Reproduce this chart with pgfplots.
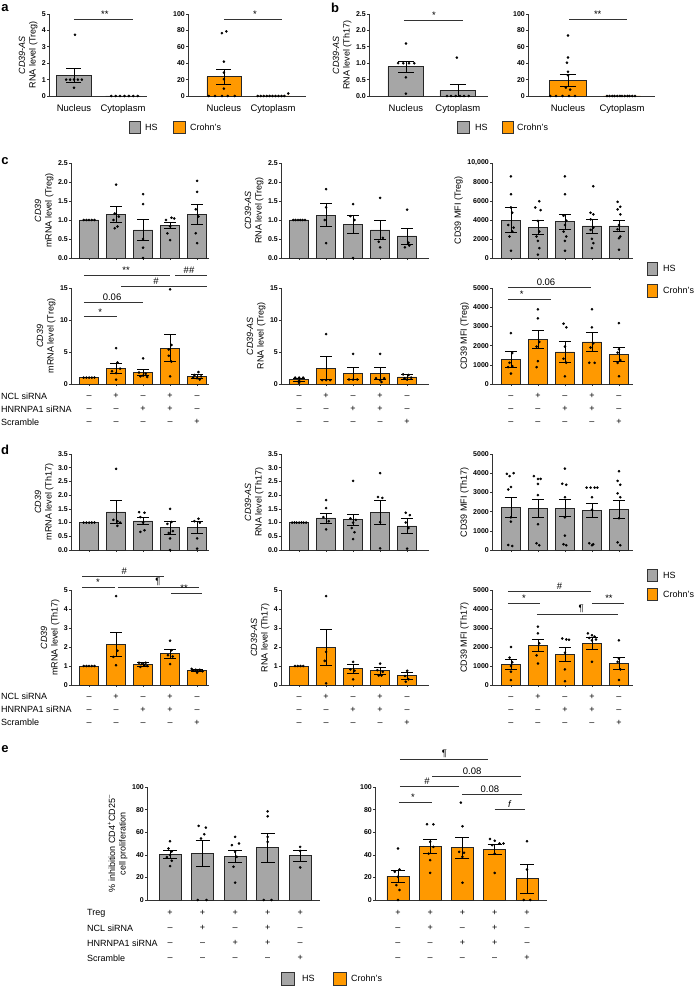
\documentclass[border=0pt]{standalone}
\usepackage{pgfplots}
\pgfplotsset{compat=1.18}
\usepackage{fontspec}
\setmainfont{Liberation Sans}
\definecolor{hsgray}{RGB}{166,166,166}
\definecolor{cdorange}{RGB}{255,153,0}

\newcommand{\mn}{–}
\newcommand{\pl}{+}
\newcommand{\three}[3]{\strut#1\\\strut#2\\\strut#3}
\newcommand{\four}[4]{\strut#1\\\strut#2\\\strut#3\\\strut#4}

\tikzset{
  sigline/.style={line width=0.7pt, black!80},
  siglab/.style={anchor=south, inner sep=1.5pt, font=\fontsize{9.5}{10}\selectfont},
  legbox/.style={draw=black!80, line width=0.8pt},
}
\newcommand{\sig}[5]{%
  \draw[sigline] (axis cs:#1,#3) -- (axis cs:#2,#3);
  \node[siglab] at (axis cs:#4,#3) {#5};}

\pgfplotsset{
  base/.style={
    scale only axis, clip=false, anchor=south west,
    axis lines=left, axis line style={-, line width=0.7pt, black!80},
    tick style={line width=0.6pt, black!80}, major tick length=2pt, tick align=outside,
    ymin=0, scaled y ticks=false,
    /pgf/number format/assume math mode=true,
    /pgf/number format/1000 sep={},
    yticklabel style={font=\fontsize{7}{7}\selectfont\bfseries, inner sep=1pt},
    ylabel style={font=\fontsize{9}{10.5}\selectfont, align=center},
  },
  onedec/.style={yticklabel style={/pgf/number format/fixed, /pgf/number format/fixed zerofill, /pgf/number format/precision=1}},
  ab/.style={base, height=82pt, xtick={0,1}, xticklabels={Nucleus,Cytoplasm}, xtick style={draw=none},
    xticklabel style={font=\fontsize{9.5}{10}\selectfont, inner sep=0pt, anchor=north, yshift=-6pt},
    ylabel style={font=\fontsize{9}{10.5}\selectfont}},
  toprow/.style={base, xtick={1,...,5}, xticklabels={}},
  rowsc/.style={base, xtick={1,...,5},
    xticklabels={\three\mn\mn\mn,\three\pl\mn\mn,\three\mn\pl\mn,\three\pl\pl\mn,\three\mn\mn\pl},
    xticklabel style={font=\fontsize{9}{13}\selectfont, align=center, inner sep=0pt, anchor=north, yshift=-3.5pt}},
  rowse/.style={base, xtick={1,...,5}, xtick style={draw=none},
    xticklabels={\four\pl\mn\mn\mn,\four\pl\pl\mn\mn,\four\pl\mn\pl\mn,\four\pl\pl\pl\mn,\four\pl\mn\mn\pl},
    xticklabel style={font=\fontsize{9}{15}\selectfont, align=center, inner sep=0pt, anchor=north, yshift=-3pt}},
  hsb/.style={ybar, bar width=#1, fill=hsgray, draw=black!85, line width=0.7pt, forget plot},
  cdb/.style={ybar, bar width=#1, fill=cdorange, draw=black!85, line width=0.7pt, forget plot},
  dots/.style={only marks, mark=*, mark size=1.1pt, black, forget plot},
  errb/.style={draw=none, mark=none, forget plot,
    error bars/.cd, y dir=both, y explicit,
    error bar style={draw=black, line width=0.7pt},
    error mark options={draw=black, line width=0.7pt, mark size=#1, rotate=90}},
}

\begin{document}
\begin{tikzpicture}
\useasboundingbox (0,0) rectangle (696pt,-987pt);

% ---------------- panel a ----------------
\begin{axis}[ab, at={(49pt,-96pt)}, width=98pt, xmin=-0.51, xmax=1.49, ymax=5, ytick={0,1,...,5},
  ylabel={\textit{CD39-AS}\\RNA level (Treg)}]
\addplot[hsb=0.71] coordinates {(0,1.27) (1,0)};
\addplot[dots] coordinates {(0.02,3.73) (-0.16,1.0) (-0.08,1.0) (0,1.0) (0.08,1.0) (0.16,1.0) (0,0.5)
  (0.76,0) (0.85,0) (0.94,0) (1.03,0) (1.12,0) (1.21,0) (1.30,0)};
\addplot[errb=7.5pt] coordinates {(0,1.27) +- (0,0.43)};
\sig{0}{1.2}{4.7}{0.63}{**}
\end{axis}

\begin{axis}[ab, at={(188pt,-96pt)}, width=118pt, xmin=-0.73, xmax=1.67, ymax=100, ytick={0,20,...,100}]
\addplot[cdb=0.69] coordinates {(0,23.4) (1,0)};
\addplot[dots] coordinates {(-0.04,76.6) (0.05,78.7) (0,42) (0,28.5) (0,20.5) (0,9)
  (-0.31,0) (-0.18,0) (-0.04,0) (0.08,0) (0.22,0)
  (0.69,0) (0.75,0) (0.81,0) (0.87,0) (0.93,0) (0.99,0) (1.05,0) (1.11,0) (1.17,0) (1.23,0) (1.31,3)};
\addplot[errb=7.5pt] coordinates {(0,23.4) +- (0,9.4)};
\sig{0}{1.18}{94}{0.63}{*}
\end{axis}

% ---------------- panel b ----------------
\begin{axis}[ab, at={(369pt,-96pt)}, width=119pt, xmin=-0.71, xmax=1.58, ymax=2.5, ytick={0,0.5,...,2.5}, onedec,
  ylabel={\textit{CD39-AS}\\RNA level (Th17)}]
\addplot[hsb=0.69] coordinates {(0,0.89) (1,0.17)};
\addplot[dots] coordinates {(0,1.6) (-0.15,1.0) (-0.05,1.0) (0.06,1.0) (0.16,1.0) (0,0.57) (0,0.07)
  (0.98,1.17) (0.79,0) (0.87,0) (0.96,0) (1.04,0) (1.12,0) (1.21,0)};
\addplot[errb=8pt] coordinates {(0,0.89) +- (0,0.18) (1,0.17) +- (0,0.17)};
\sig{-0.04}{1.1}{2.32}{0.54}{*}
\end{axis}

\begin{axis}[ab, at={(528pt,-96pt)}, width=127pt, xmin=-0.74, xmax=1.61, ymax=100, ytick={0,20,...,100}]
\addplot[cdb=0.69] coordinates {(0,19.3) (1,0)};
\addplot[dots] coordinates {(0,73.8) (0,47) (-0.02,40.6) (0,29.5) (0,25.4) (-0.04,10.2) (0.04,7.8)
  (-0.33,0) (-0.22,0) (-0.1,0) (0.02,0) (0.13,0)
  (0.72,0) (0.77,0) (0.82,0) (0.86,0) (0.91,0) (0.96,0) (1.0,0) (1.05,0) (1.1,0) (1.14,0) (1.19,0) (1.24,0)};
\addplot[errb=8pt] coordinates {(0,19.3) +- (0,7.2)};
\sig{0.02}{1.09}{94}{0.55}{**}
\end{axis}

% ---------------- panel c, top ----------------
\begin{axis}[toprow, at={(71pt,-258pt)}, width=138pt, height=95pt, xmin=0.33, xmax=5.44, ymax=2.5,
  ytick={0,0.5,...,2.5}, onedec, ylabel={\textit{CD39}\\mRNA level (Treg)}]
\addplot[hsb=0.7] coordinates {(1,1.0) (2,1.15) (3,0.74) (4,0.85) (5,1.15)};
\addplot[dots] coordinates {(0.8,1) (0.9,1) (1,1) (1.1,1) (1.2,1)
  (2,1.93) (1.95,1.17) (2.1,1.09) (1.9,1.0) (2.05,0.83) (1.95,0.78)
  (3,1.68) (3,1.42) (3,0.5) (3,0.27) (3,0)
  (3.85,1.0) (4.05,1.06) (4.15,1.04) (4,0.83) (3.9,0.65) (4,0.47)
  (5,2.03) (5,1.74) (4.95,1.28) (5.05,1.09) (4.95,0.65) (5,0.39)};
\addplot[errb=6pt] coordinates {(2,1.15) +- (0,0.2) (3,0.74) +- (0,0.27) (4,0.85) +- (0,0.08) (5,1.15) +- (0,0.27)};
\end{axis}

\begin{axis}[toprow, at={(281pt,-258pt)}, width=148pt, height=95pt, xmin=0.33, xmax=5.81, ymax=2.5,
  ytick={0,0.5,...,2.5}, onedec, ylabel={\textit{CD39-AS}\\RNA level (Treg)}]
\addplot[hsb=0.7] coordinates {(1,1.0) (2,1.13) (3,0.89) (4,0.74) (5,0.58)};
\addplot[dots] coordinates {(0.78,1) (0.87,1) (0.96,1) (1.04,1) (1.13,1) (1.22,1)
  (2,1.81) (2,1.33) (1.95,1.0) (2,0.39)
  (3,1.42) (2.9,1.1) (3.05,1.0) (3,0)
  (4,1.58) (4.1,0.53) (3.95,0.43) (4,0.28)
  (5,1.27) (5.05,0.4) (4.92,0.28) (5.08,0.33)};
\addplot[errb=6pt] coordinates {(2,1.13) +- (0,0.3) (3,0.89) +- (0,0.23) (4,0.74) +- (0,0.26) (5,0.58) +- (0,0.21)};
\end{axis}

\begin{axis}[toprow, at={(492pt,-258pt)}, width=141pt, height=95pt, xmin=0.3, xmax=5.52, ymax=10000,
  ytick={0,2000,...,10000}, yticklabels={0,2000,4000,6000,8000,{10,000}}, ylabel={CD39 MFI (Treg)}]
\addplot[hsb=0.7] coordinates {(1,4000) (2,3235) (3,3826) (4,3374) (5,3374)};
\addplot[dots] coordinates {(1,8590) (1,6710) (1,5320) (1.05,4765) (0.9,3478) (1.1,3200) (1.05,2780) (0.95,2260) (1,765)
  (2.05,5980) (1.9,5320) (2.1,5040) (2,3900) (2.05,2780) (1.95,2260) (2,1800) (2.05,1040) (2,350)
  (3,8590) (3,6710) (2.95,4450) (3.05,3930) (3,3478) (2.95,2780) (3.05,2260) (3,1800) (3,765)
  (4.05,7550) (3.95,4765) (4.05,4590) (3.95,4070) (4.05,3200) (3.95,2956) (4,2017) (4.05,1565) (4,1040)
  (4.95,5913) (5.05,5390) (4.95,5110) (5.05,4590) (5,3478) (4.95,3026) (5.05,2260) (5,2087) (5,870)};
\addplot[errb=6pt] coordinates {(1,4000) +- (0,1290) (2,3235) +- (0,700) (3,3826) +- (0,770) (4,3374) +- (0,745) (5,3374) +- (0,575)};
\end{axis}

% ---------------- panel c, bottom ----------------
\begin{axis}[rowsc, at={(71pt,-384pt)}, width=138pt, height=96pt, xmin=0.33, xmax=5.44, ymax=15,
  ytick={0,5,10,15}, ylabel={\textit{CD39}\\mRNA level (Treg)}]
\addplot[cdb=0.7] coordinates {(1,1.0) (2,2.5) (3,1.8) (4,5.6) (5,1.14)};
\addplot[dots] coordinates {(0.8,1) (0.9,1) (1,1) (1.1,1) (1.2,1)
  (2,5.6) (2.05,3.37) (2.15,2.4) (1.85,2.0) (2,1.7) (2,0.67)
  (3,4.0) (2.85,1.8) (3.1,1.6) (3,1.3) (2.9,1.2) (3.15,1.1)
  (4,14.8) (4.05,6.1) (3.95,5.4) (3.95,4.4) (4.05,3.5) (4,1.2)
  (5.05,1.86) (4.9,1.4) (5.15,1.2) (4.85,1.0) (5,0.9) (5.1,0.7)};
\addplot[errb=6pt] coordinates {(2,2.5) +- (0,0.78) (3,1.8) +- (0,0.45) (4,5.6) +- (0,2.1) (5,1.14) +- (0,0.33)};
\sig{0.81}{2.04}{10.5}{1.41}{*}
\sig{0.81}{3.0}{12.8}{1.85}{0.06}
\sig{2.19}{5.37}{15.3}{3.48}{\#}
\sig{0.81}{4.0}{17.0}{2.37}{**}
\sig{4.19}{5.37}{17.0}{4.7}{\#\#}
\end{axis}

\begin{axis}[rowsc, at={(281pt,-384pt)}, width=148pt, height=96pt, xmin=0.33, xmax=5.81, ymax=15,
  ytick={0,5,10,15}, ylabel={\textit{CD39-AS}\\RNA level (Treg)}]
\addplot[cdb=0.7] coordinates {(1,0.67) (2,2.5) (3,1.7) (4,1.7) (5,1.1)};
\addplot[dots] coordinates {(0.85,1) (1,1) (1.15,1) (1,0.5) (1,0.2)
  (2,7.8) (1.85,0.6) (2,0.6) (2.15,0.6)
  (3,4.7) (2.85,0.7) (3,0.7) (3.15,0.7)
  (4,4.7) (3.85,0.9) (4,0.6) (4.15,0.9) (4.05,0.3)
  (4.85,1.5) (5.05,1.4) (5.15,1.0) (4.9,0.9) (5,0.7)};
\addplot[errb=6pt] coordinates {(1,0.67) +- (0,0.28) (2,2.5) +- (0,1.8) (3,1.7) +- (0,0.95) (4,1.7) +- (0,0.95) (5,1.1) +- (0,0.38)};
\end{axis}

\begin{axis}[rowsc, at={(492pt,-384pt)}, width=141pt, height=96pt, xmin=0.3, xmax=5.52, ymax=5000,
  ytick={0,1000,...,5000}, ylabel={CD39 MFI (Treg)}]
\addplot[cdb=0.7] coordinates {(1,1280) (2,2333) (3,1667) (4,2193) (5,1544)};
\addplot[dots] coordinates {(1,2650) (1.05,1614) (0.95,1105) (1.05,930) (0.9,880) (1,545)
  (2,3890) (2,3420) (2.05,2193) (1.95,1950) (2,1190) (1.95,877)
  (2.95,3140) (3.05,2950) (3,1950) (2.95,1316) (3.05,1105) (3,400)
  (4,3890) (4,2950) (4.05,2120) (3.95,1900) (3.9,1105) (4.1,1105)
  (5,3170) (5,1807) (4.95,1631) (5.05,1245) (4.95,1100) (5,404)};
\addplot[errb=6pt] coordinates {(1,1280) +- (0,395) (2,2333) +- (0,475) (3,1667) +- (0,550) (4,2193) +- (0,510) (5,1544) +- (0,380)};
\sig{0.89}{2.48}{4430}{1.4}{*}
\sig{0.89}{3.96}{5030}{2.3}{0.06}
\end{axis}

% ---------------- panel d, top ----------------
\begin{axis}[toprow, at={(71pt,-550pt)}, width=138pt, height=96pt, xmin=0.33, xmax=5.44, ymax=3.5,
  ytick={0,0.5,...,3.5}, onedec, ylabel={\textit{CD39}\\mRNA level (Th17)}]
\addplot[hsb=0.7] coordinates {(1,1.0) (2,1.39) (3,1.06) (4,0.81) (5,0.82)};
\addplot[dots] coordinates {(0.8,1) (0.9,1) (1,1) (1.1,1) (1.2,1)
  (2,2.96) (1.9,1.1) (2.05,1.05) (2.15,1.0) (2.05,0.88)
  (2.85,1.38) (3.05,1.36) (2.9,1.2) (3,1.0) (3.05,0.72) (2.9,0.66)
  (4,1.5) (4.05,1.02) (3.9,0.95) (4.1,0.69) (3.95,0.62) (4,0.42) (4,0)
  (5.05,1.14) (4.9,1.05) (5.1,1.0) (5,0.42) (5,0.05)};
\addplot[errb=6pt] coordinates {(2,1.39) +- (0,0.41) (3,1.06) +- (0,0.14) (4,0.81) +- (0,0.24) (5,0.82) +- (0,0.22)};
\end{axis}

\begin{axis}[toprow, at={(281pt,-550pt)}, width=148pt, height=96pt, xmin=0.33, xmax=5.81, ymax=3.5,
  ytick={0,0.5,...,3.5}, onedec, ylabel={\textit{CD39-AS}\\RNA level (Th17)}]
\addplot[hsb=0.7] coordinates {(1,1.0) (2,1.17) (3,1.1) (4,1.37) (5,0.88)};
\addplot[dots] coordinates {(0.74,1) (0.83,1) (0.91,1) (1,1) (1.09,1) (1.17,1) (1.26,1)
  (2,1.82) (2,1.53) (1.9,1.2) (2.1,1.05) (2,0.75)
  (3,2.52) (2.9,1.15) (3.1,1.1) (3,1.0) (2.95,0.8) (3.05,0.65) (3,0.4)
  (4,2.8) (3.92,1.93) (4.08,1.9) (4,1.02) (4,0.06)
  (4.95,1.36) (5.1,1.27) (4.95,1.0) (5.05,0.8) (5,0.05)};
\addplot[errb=6pt] coordinates {(2,1.17) +- (0,0.18) (3,1.1) +- (0,0.21) (4,1.37) +- (0,0.45) (5,0.88) +- (0,0.27)};
\end{axis}

\begin{axis}[toprow, at={(492pt,-550pt)}, width=141pt, height=96pt, xmin=0.3, xmax=5.52, ymax=5000,
  ytick={0,1000,...,5000}, ylabel={CD39 MFI (Th17)}]
\addplot[hsb=0.7] coordinates {(1,2220) (2,2170) (3,2180) (4,2060) (5,2120)};
\addplot[dots] coordinates {(0.85,3967) (0.95,3850) (1.1,4000) (1,3280) (0.9,3150) (1,1700) (1,1480) (0.9,260) (1.05,210)
  (1.85,3850) (2,3700) (2.1,3700) (2,3440) (2,2860) (2,1340) (1.95,350) (2.05,250)
  (3,4240) (2.9,3450) (3.05,3400) (3,2750) (3,1700) (3,750) (2.95,300) (3.05,250)
  (3.8,3250) (3.95,3250) (4.1,3250) (4.2,3250) (4,2750) (4,2100) (3.9,350) (4.05,300) (4,250)
  (5,4100) (4.95,3600) (5.05,3400) (4.95,2950) (5.05,2750) (5,1650) (4.95,400) (5.05,250)};
\addplot[errb=6pt] coordinates {(1,2220) +- (0,500) (2,2170) +- (0,450) (3,2180) +- (0,450) (4,2060) +- (0,380) (5,2120) +- (0,450)};
\end{axis}

% ---------------- panel d, bottom ----------------
\begin{axis}[rowsc, at={(71pt,-685pt)}, width=138pt, height=95pt, xmin=0.33, xmax=5.44, ymax=5,
  ytick={0,1,...,5}, ylabel={\textit{CD39}\\mRNA level (Th17)}]
\addplot[cdb=0.7] coordinates {(1,1.0) (2,2.14) (3,1.08) (4,1.65) (5,0.75)};
\addplot[dots] coordinates {(0.8,1) (0.9,1) (1,1) (1.1,1) (1.2,1)
  (2,4.68) (2.05,1.8) (1.9,1.48) (2,1.04)
  (2.85,1.17) (3.1,1.17) (2.95,1.1) (3.05,1.05) (3.15,1.0) (2.9,0.95)
  (4,2.33) (4.05,1.83) (3.92,1.57) (4.1,1.5) (4,1.1)
  (4.8,0.85) (4.95,0.8) (5.1,0.8) (4.85,0.75) (5.2,0.72) (5,0.65)};
\addplot[errb=6pt] coordinates {(2,2.14) +- (0,0.63) (3,1.08) +- (0,0.09) (4,1.65) +- (0,0.23) (5,0.75) +- (0,0.05)};
\sig{0.74}{1.96}{5.16}{1.33}{*}
\sig{2.07}{5.07}{5.16}{3.55}{¶}
\sig{0.74}{3.78}{5.74}{2.3}{\#}
\sig{4.04}{5.19}{4.84}{4.52}{**}
\end{axis}

\begin{axis}[rowsc, at={(281pt,-685pt)}, width=148pt, height=95pt, xmin=0.33, xmax=5.81, ymax=5,
  ytick={0,1,...,5}, ylabel={\textit{CD39-AS}\\RNA level (Th17)}]
\addplot[cdb=0.7] coordinates {(1,1.0) (2,2.0) (3,0.87) (4,0.75) (5,0.49)};
\addplot[dots] coordinates {(0.85,1) (0.95,1) (1.05,1) (1.15,1)
  (2,4.68) (2,1.74) (1.95,1.27) (2,0.09)
  (3,1.22) (2.9,0.82) (3.05,0.75) (3,0.3)
  (4,1.13) (3.9,0.78) (4.1,0.7) (3.95,0.5) (4.05,0.5)
  (5,0.75) (4.92,0.47) (5.05,0.3) (4.95,0.17)};
\addplot[errb=6pt] coordinates {(2,2.0) +- (0,0.95) (3,0.87) +- (0,0.24) (4,0.75) +- (0,0.2) (5,0.49) +- (0,0.18)};
\end{axis}

\begin{axis}[rowsc, at={(492pt,-685pt)}, width=141pt, height=95pt, xmin=0.3, xmax=5.52, ymax=5000,
  ytick={0,1000,...,5000}, ylabel={CD39 MFI (Th17)}]
\addplot[cdb=0.7] coordinates {(1,1100) (2,2090) (3,1620) (4,2210) (5,1130)};
\addplot[dots] coordinates {(1,2000) (0.95,1440) (1.05,1200) (1,1000) (1,700) (1,260)
  (2,3070) (2,2720) (2.05,2200) (1.95,1560) (2,1130)
  (2.9,2450) (3.05,2400) (3.15,2380) (3,1700) (3,820) (3,200)
  (3.85,2720) (4,2620) (4.1,2550) (3.9,2480) (4.15,2400) (4,2350) (4,1220)
  (5,2350) (5,1390) (4.95,1220) (5.05,820) (5,260)};
\addplot[errb=6pt] coordinates {(1,1100) +- (0,260) (2,2090) +- (0,300) (3,1620) +- (0,375) (4,2210) +- (0,320) (5,1130) +- (0,310)};
\sig{0.89}{2.07}{4320}{1.48}{*}
\sig{4.0}{5.19}{4320}{4.63}{**}
\sig{1.96}{4.96}{3740}{3.6}{¶}
\sig{0.89}{3.96}{4950}{2.8}{\#}
\end{axis}

% ---------------- panel e ----------------
\begin{axis}[rowse, at={(147pt,-900pt)}, width=173pt, height=113pt, xmin=0.29, xmax=5.61, ymax=100,
  ytick={0,20,...,100}, ylabel={\% inhibition CD4\textsuperscript{+}CD25\textsuperscript{–}\\cell proliferation}]
\addplot[hsb=0.68] coordinates {(1,40.3) (2,41.2) (3,38.8) (4,46.5) (5,39.1)};
\addplot[dots] coordinates {(1,52) (0.95,45.6) (1.05,43) (1,40) (0.9,38) (1.05,34.7) (1,30)
  (1.88,65.6) (2.1,64.1) (2.05,58.2) (1.95,54.4) (1.85,0) (2.12,0)
  (3,55.9) (3.12,50) (2.9,48.5) (3,42.6) (3.05,38.2) (2.95,29.4) (3,15.3)
  (4,78.5) (4,74.1) (4,55.9) (4,51.5) (3.88,0) (4.12,0)
  (5,47) (5,43.5) (5,28.8)};
\addplot[errb=7pt] coordinates {(1,40.3) +- (0,3.3) (2,41.2) +- (0,11.2) (3,38.8) +- (0,5.2) (4,46.5) +- (0,12.9) (5,39.1) +- (0,4.8)};
\end{axis}

\begin{axis}[rowse, at={(375pt,-900pt)}, width=172pt, height=113pt, xmin=0.29, xmax=5.62, ymax=100,
  ytick={0,20,...,100}]
\addplot[cdb=0.68] coordinates {(1,21.2) (2,47.6) (3,46.2) (4,45.0) (5,19.1)};
\addplot[dots] coordinates {(1,45.6) (1.05,27) (0.9,25) (1,20.6) (0.95,13.2) (1.05,8.8) (1,0)
  (1.9,67) (2.1,67) (2,51.5) (2.1,47) (1.95,41) (2,35.3) (2,24)
  (2.95,86.2) (3,65.3) (2.9,42.6) (3.05,41.8) (3,38.2) (3,15.3)
  (3.85,54) (4,52.4) (4.15,50) (4.27,50) (3.92,48.5) (4,41) (4,24)
  (5,52) (5,27) (4.9,0) (5.1,0)};
\addplot[errb=7pt] coordinates {(1,21.2) +- (0,5.4) (2,47.6) +- (0,6.3) (3,46.2) +- (0,9.2) (4,45.0) +- (0,4.7) (5,19.1) +- (0,12.8)};
\sig{1.03}{2.06}{86.7}{1.47}{*}
\sig{4.0}{4.93}{80.5}{4.47}{\textit{f}}
\sig{3.0}{4.85}{93.8}{3.85}{0.08}
\sig{1.06}{2.9}{100.9}{1.9}{\#}
\sig{2.06}{4.8}{109.7}{3.3}{0.08}
\sig{1.06}{3.8}{124.8}{2.44}{¶}
\end{axis}

% ---------------- panel letters ----------------
\begin{scope}[every node/.style={font=\fontsize{13}{13}\selectfont\bfseries, inner sep=0pt}]
\node at (5pt,-8pt) {a};
\node at (335pt,-8pt) {b};
\node at (5pt,-161pt) {c};
\node at (5pt,-450pt) {d};
\node at (5pt,-749pt) {e};
\end{scope}

% ---------------- row names ----------------
\begin{scope}[every node/.style={font=\fontsize{9}{10}\selectfont, anchor=west, inner sep=0pt}]
\node at (1pt,-396pt) {NCL siRNA};
\node at (1pt,-409pt) {HNRNPA1 siRNA};
\node at (1pt,-422pt) {Scramble};
\node at (1pt,-696pt) {NCL siRNA};
\node at (1pt,-709pt) {HNRNPA1 siRNA};
\node at (1pt,-722pt) {Scramble};
\node at (87pt,-913pt) {Treg};
\node at (87pt,-928pt) {NCL siRNA};
\node at (87pt,-943pt) {HNRNPA1 siRNA};
\node at (87pt,-958pt) {Scramble};
\end{scope}

% ---------------- legends ----------------
\begin{scope}[every node/.style={font=\fontsize{9}{10}\selectfont, anchor=west, inner sep=0pt}]
\draw[legbox, fill=hsgray] (129pt,-121pt) rectangle (140pt,-133pt); \node at (145pt,-127pt) {HS};
\draw[legbox, fill=cdorange] (173pt,-121pt) rectangle (185pt,-133pt); \node at (190pt,-127pt) {Crohn's};
\draw[legbox, fill=hsgray] (457pt,-121pt) rectangle (469pt,-133pt); \node at (475pt,-127pt) {HS};
\draw[legbox, fill=cdorange] (502pt,-121pt) rectangle (513pt,-133pt); \node at (517pt,-127pt) {Crohn's};
\draw[legbox, fill=hsgray] (647pt,-262pt) rectangle (657pt,-275pt); \node at (663pt,-268pt) {HS};
\draw[legbox, fill=cdorange] (647pt,-284pt) rectangle (657pt,-297pt); \node at (663pt,-290pt) {Crohn's};
\draw[legbox, fill=hsgray] (647pt,-569pt) rectangle (657pt,-581pt); \node at (663pt,-575pt) {HS};
\draw[legbox, fill=cdorange] (647pt,-588pt) rectangle (657pt,-600pt); \node at (663pt,-594pt) {Crohn's};
\draw[legbox, fill=hsgray] (281pt,-972pt) rectangle (294pt,-985pt); \node at (302pt,-978pt) {HS};
\draw[legbox, fill=cdorange] (333pt,-972pt) rectangle (346pt,-985pt); \node at (351pt,-978pt) {Crohn's};
\end{scope}
\end{tikzpicture}
\end{document}
